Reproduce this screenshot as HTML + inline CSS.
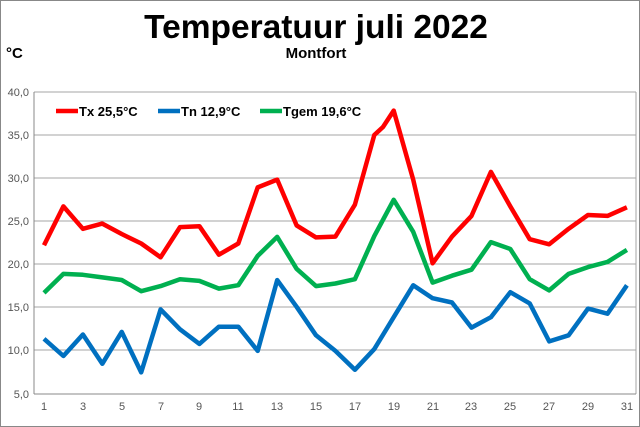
<!DOCTYPE html>
<html><head><meta charset="utf-8"><style>
body{margin:0;background:#fff}
svg{display:block;font-family:"Liberation Sans",Arial,sans-serif}
</style></head><body>
<svg width="640" height="427" viewBox="0 0 640 427" xmlns="http://www.w3.org/2000/svg">
<rect x="0.5" y="0.5" width="639" height="426" fill="#fff" stroke="#888"/>
<text x="316" y="38" text-anchor="middle" font-size="33.5" font-weight="bold">Temperatuur juli 2022</text>
<text x="316" y="58" text-anchor="middle" font-size="15" font-weight="bold">Montfort</text>
<text x="6" y="58" font-size="15" font-weight="bold">°C</text>
<g stroke="#a6a6a6" stroke-width="1">
<line x1="34" y1="92" x2="636" y2="92"/><line x1="34" y1="135" x2="636" y2="135"/>
<line x1="34" y1="178" x2="636" y2="178"/><line x1="34" y1="221" x2="636" y2="221"/>
<line x1="34" y1="264" x2="636" y2="264"/><line x1="34" y1="307" x2="636" y2="307"/>
<line x1="34" y1="350" x2="636" y2="350"/>
<line x1="636" y1="92" x2="636" y2="394"/>
</g>
<g stroke="#888" stroke-width="1">
<line x1="34" y1="92" x2="34" y2="394"/><line x1="34" y1="394" x2="636" y2="394"/>
</g>
<g font-size="11" fill="#555" text-anchor="end">
<text x="29" y="96">40,0</text><text x="29" y="139">35,0</text><text x="29" y="182">30,0</text>
<text x="29" y="225">25,0</text><text x="29" y="268">20,0</text><text x="29" y="311">15,0</text>
<text x="29" y="354">10,0</text><text x="29" y="398">5,0</text>
</g>
<g font-size="11" fill="#555" text-anchor="middle">
<text x="44" y="410">1</text><text x="83" y="410">3</text><text x="122" y="410">5</text>
<text x="161" y="410">7</text><text x="199" y="410">9</text><text x="238" y="410">11</text>
<text x="277" y="410">13</text><text x="316" y="410">15</text><text x="355" y="410">17</text>
<text x="394" y="410">19</text><text x="433" y="410">21</text><text x="471" y="410">23</text>
<text x="510" y="410">25</text><text x="549" y="410">27</text><text x="588" y="410">29</text>
<text x="627" y="410">31</text>
</g>
<g fill="none" stroke-width="4.5" stroke-linejoin="round">
<polyline stroke="#ff0000" points="44,245.2 63.4,206.4 82.9,228.8 102.3,223.6 121.7,234.0 141.2,243.5 160.6,257.3 180,227.1 199.4,226.2 218.9,254.7 238.3,243.5 257.7,187.4 277.2,179.6 296.6,225.4 316,237.4 335.4,236.6 354.9,204.7 374.3,135 383,127 393.7,110.6 413.2,179.6 432.6,263.3 452,236.6 471.5,215.9 490.9,171.9 510.3,206.4 529.7,239.2 549.2,244.3 568.6,228.8 588,215.0 607.5,215.9 626.9,207.3"/>
<polyline stroke="#0070c0" points="44,338.8 63.4,356.0 82.9,334.5 102.3,363.8 121.7,331.9 141.2,372.4 160.6,309.4 180,329.3 199.4,343.9 218.9,326.7 238.3,326.7 257.7,350.9 277.2,280.1 296.6,306.8 316,335.3 335.4,350.9 354.9,369.8 374.3,349.1 393.7,317.2 413.2,285.3 432.6,298.2 452,302.5 471.5,327.6 490.9,317.2 510.3,292.2 529.7,303.4 549.2,341.4 568.6,335.3 588,308.6 607.5,313.7 626.9,285.3"/>
<polyline stroke="#00b050" points="44,292.9 63.4,273.9 82.9,274.8 102.3,277.4 121.7,280.0 141.2,291.2 160.6,286.1 180,279.2 199.4,280.9 218.9,288.6 238.3,285.2 257.7,255.9 277.2,236.9 296.6,268.8 316,286.1 335.4,283.5 354.9,279.2 374.3,236.1 393.7,199.8 413.2,231.8 432.6,282.6 452,275.7 471.5,269.7 490.9,242.1 510.3,249.0 529.7,279.2 549.2,290.4 568.6,273.9 588,267.1 607.5,261.9 626.9,249.9"/>
</g>
<g stroke-width="4.5">
<line x1="56" y1="111" x2="78" y2="111" stroke="#ff0000"/>
<line x1="158" y1="111" x2="180" y2="111" stroke="#0070c0"/>
<line x1="260" y1="111" x2="282" y2="111" stroke="#00b050"/>
</g>
<g font-size="13" font-weight="bold">
<text x="79" y="116">Tx 25,5°C</text>
<text x="181" y="116">Tn 12,9°C</text>
<text x="283" y="116">Tgem 19,6°C</text>
</g>
</svg>
</body></html>
